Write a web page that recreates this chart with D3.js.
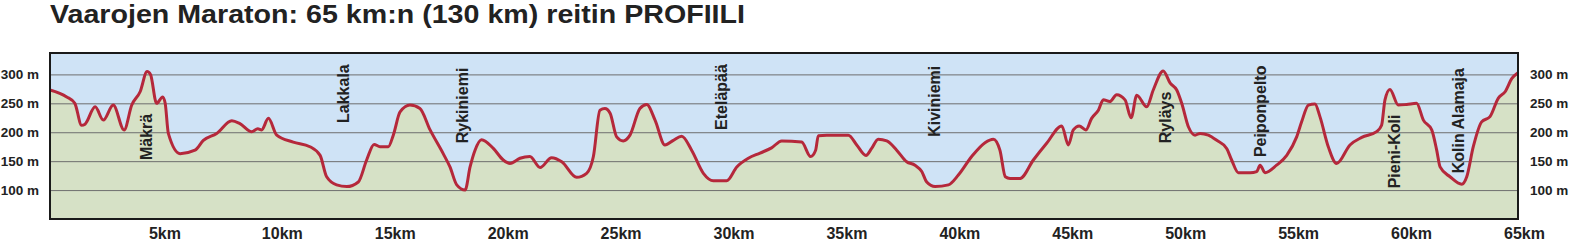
<!DOCTYPE html>
<html>
<head>
<meta charset="utf-8">
<script src="https://cdn.jsdelivr.net/npm/d3@7"></script>
<style>
  body { margin: 0; background: #fff; }
  svg { display: block; font-family: "Liberation Sans", Arial, sans-serif; }
</style>
</head>
<body>
<div class="canvas"></div>
<script>
// route profile: distance (km) and altitude (m)
const distKm = [0, 0.74, 1.1, 1.4, 1.55, 2.0, 2.36, 2.8, 3.28, 3.62, 3.99, 4.3, 4.45, 4.72, 4.99, 5.1, 5.24, 5.76,
  6.42, 6.79, 7.38, 8.05, 8.41, 8.93, 9.2, 9.37, 9.67, 10.04, 10.77, 11.51, 11.96, 12.25, 12.69, 13.14, 13.65,
  14.02, 14.35, 14.61, 14.98, 15.2, 15.5, 15.94, 16.38, 16.83, 17.41, 17.71, 18.01, 18.38, 18.6, 18.82, 19.11,
  19.63, 20.07, 20.37, 20.81, 21.25, 21.7, 22.21, 22.66, 23.32, 23.76, 24.06, 24.35, 24.57, 24.8, 25.09, 25.38,
  25.68, 26.12, 26.42, 26.79, 27.23, 27.6, 27.97, 28.41, 28.93, 29.37, 29.96, 30.41, 30.92, 31.44, 31.95, 32.4,
  33.28, 33.68, 33.9, 34.02, 34.39, 35.35, 35.72, 36.13, 36.38, 36.67, 37.05, 37.49, 37.93, 38.3, 38.6, 38.82,
  39.19, 39.78, 40.22, 40.81, 41.4, 41.77, 42.06, 42.3, 42.51, 42.95, 43.54, 44.13, 44.8, 45.09, 45.31, 45.57,
  45.87, 46.12, 46.42, 46.64, 46.93, 47.23, 47.6, 47.87, 48.12, 48.56, 48.85, 49.29, 49.6, 49.89, 50.11, 50.41,
  50.7, 50.92, 51.29, 51.66, 52.1, 52.32, 52.62, 53.14, 53.43, 53.58, 53.8, 54.31, 54.76, 55.2, 55.42, 55.72,
  56.01, 56.23, 56.6, 56.97, 57.56, 58.08, 58.74, 58.96, 59.11, 59.33, 59.7, 60.07, 60.51, 60.81, 61.18, 61.4,
  61.55, 61.99, 62.51, 62.73, 63.02, 63.39, 63.76, 64.13, 64.43, 64.73, 65];
const altM = [273, 261, 250, 212, 214, 244, 221, 247, 204, 247, 270, 305, 300, 250, 261, 250, 198, 163,
  169, 186, 198, 220, 215, 201, 206, 204, 224, 195, 183, 175, 160, 123, 109, 106, 114,
  152, 179, 175, 175, 195, 235, 247, 241, 204, 163, 140, 109, 100, 140, 169, 187,
  172, 152, 146, 155, 158, 139, 156, 149, 122, 129, 158, 238, 241, 233, 192, 185,
  195, 241, 248, 221, 178, 186, 193, 169, 129, 116, 116, 140, 155, 164, 173, 185,
  183, 158, 169, 194, 195, 195, 178, 160, 172, 188, 185, 169, 149, 143, 132, 114,
  106, 109, 126, 158, 182, 188, 169, 123, 120, 120, 152, 181, 211, 178, 204, 211,
  204, 224, 238, 256, 253, 265, 256, 225, 264, 244, 273, 306, 285, 273, 250, 209,
  195, 198, 195, 186, 172, 152, 130, 130, 132, 143, 130, 143, 160, 192, 218, 247,
  249, 227, 175, 146, 178, 191, 201, 212, 256, 274, 247, 248, 250, 221, 204, 169,
  140, 123, 110, 123, 175, 218, 227, 259, 270, 293, 303];

// place names along the route
const placeNames = ["Mäkrä", "Lakkala", "Rykiniemi", "Eteläpää", "Kiviniemi", "Ryläys", "Peiponpelto", "Pieni-Koli", "Kolin Alamaja"];
const placeKm = [4.25, 12.97, 18.24, 29.71, 39.14, 49.37, 53.58, 59.51, 62.34];
const placeAlt = [152, 216, 181, 204, 192, 181, 157, 103, 129];

// axis ticks
const altTicks = [100, 150, 200, 250, 300];
const kmTicks = [5, 10, 15, 20, 25, 30, 35, 40, 45, 50, 55, 60, 65];

const titleText = "Vaarojen Maraton: 65 km:n (130 km) reitin PROFIILI";

const dims = { width: 1570, height: 241 };
const plot = { left: 50, right: 1518, top: 53, bottom: 219 };

const svg = d3.select('.canvas')
  .append('svg')
  .attr('width', dims.width)
  .attr('height', dims.height);

const x = d3.scaleLinear().domain([0, 65]).range([plot.left, plot.right]);
const y = d3.scaleLinear().domain([50, 337]).range([plot.bottom, plot.top]);

const rows = distKm.map((d, i) => ({ km: d, alt: altM[i] }));

// title (the original face is wider than Liberation, so stretch it)
svg.append('text')
  .attr('x', 50)
  .attr('y', 23)
  .attr('font-size', 25)
  .attr('font-weight', 'bold')
  .attr('fill', '#222')
  .attr('textLength', 695)
  .attr('lengthAdjust', 'spacingAndGlyphs')
  .text(titleText);

// sky
svg.append('rect')
  .attr('x', plot.left).attr('y', plot.top)
  .attr('width', plot.right - plot.left)
  .attr('height', plot.bottom - plot.top)
  .attr('fill', '#cfe3f6');

// ground under the profile
const area = d3.area()
  .x(d => x(d.km))
  .y0(plot.bottom)
  .y1(d => y(d.alt))
  .curve(d3.curveMonotoneX);

svg.append('path')
  .datum(rows)
  .attr('d', area)
  .attr('fill', '#d6e1c6');

// grid lines
const grid = svg.append('g')
  .attr('transform', `translate(${plot.left},0)`)
  .call(d3.axisLeft(y).tickValues(altTicks).tickSize(-(plot.right - plot.left)).tickFormat(''));
grid.select('.domain').remove();
grid.selectAll('line').attr('stroke', '#6e6e6e').attr('stroke-width', 1);

// the profile line
const line = d3.line()
  .x(d => x(d.km))
  .y(d => y(d.alt))
  .curve(d3.curveMonotoneX);

svg.append('path')
  .datum(rows)
  .attr('d', line)
  .attr('fill', 'none')
  .attr('stroke', '#b5283b')
  .attr('stroke-width', 3)
  .attr('stroke-linejoin', 'round');

// frame
svg.append('rect')
  .attr('x', plot.left).attr('y', plot.top)
  .attr('width', plot.right - plot.left)
  .attr('height', plot.bottom - plot.top)
  .attr('fill', 'none')
  .attr('stroke', '#1a1a1a')
  .attr('stroke-width', 2);

// altitude labels, both sides
const styleAxis = g => {
  g.select('.domain').remove();
  g.selectAll('text')
    .attr('font-size', 13.5)
    .attr('font-weight', 'bold')
    .attr('fill', '#222')
    .attr('font-family', '"Liberation Sans", Arial, sans-serif');
};

svg.append('g')
  .attr('transform', `translate(${plot.left},0)`)
  .call(d3.axisLeft(y).tickValues(altTicks).tickSize(0).tickPadding(11).tickFormat(d => d + ' m'))
  .call(styleAxis);

svg.append('g')
  .attr('transform', `translate(${plot.right},0)`)
  .call(d3.axisRight(y).tickValues(altTicks).tickSize(0).tickPadding(12).tickFormat(d => d + ' m'))
  .call(styleAxis);

// km labels (placed by their left edge)
svg.append('g')
  .selectAll('text')
  .data(kmTicks)
  .enter()
  .append('text')
  .attr('x', d => x(d) - 14)
  .attr('y', 239)
  .attr('font-size', 16)
  .attr('font-weight', 'bold')
  .attr('fill', '#222')
  .text(d => d + 'km');

// place names, written upwards
svg.append('g')
  .selectAll('text')
  .data(placeNames)
  .enter()
  .append('text')
  .attr('transform', (d, i) => `translate(${x(placeKm[i])},${y(placeAlt[i])}) rotate(-90)`)
  .attr('dy', '0.35em')
  .attr('font-size', 16)
  .attr('font-weight', 'bold')
  .attr('fill', '#222')
  .text(d => d);
</script>
</body>
</html>
